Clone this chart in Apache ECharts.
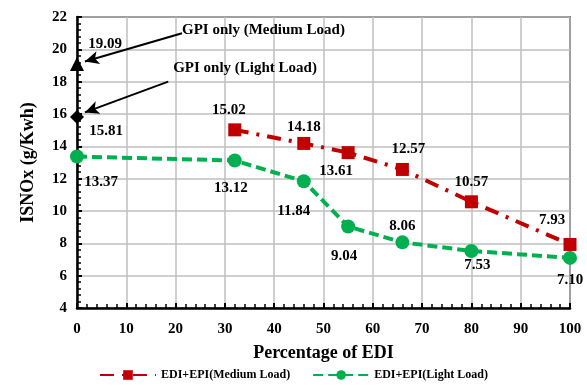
<!DOCTYPE html>
<html>
<head>
<meta charset="utf-8">
<script src="https://cdn.jsdelivr.net/npm/echarts@6/dist/echarts.min.js"></script>
<style>
  html, body { margin: 0; padding: 0; background: #fff; }
  #chart { width: 587px; height: 388px; }
</style>
</head>
<body>
<div id="chart"></div>
<script>
// data
const ediMedium = [32, 46, 55, 66, 80, 100]
const noxMedium = [15.02, 14.18, 13.61, 12.57, 10.57, 7.93]
const ediLight = [0, 32, 46, 55, 66, 80, 100]
const noxLight = [13.37, 13.12, 11.84, 9.04, 8.06, 7.53, 7.10]
const gpiMedium = 19.09
const gpiLight = 15.81

// where each value label sits relative to its point [dx, dy]
const medLabelOffsets = [[-6, -20], [0, -16], [-12, 18], [6, -20], [0, -20], [-18, -24]]
const lightLabelOffsets = [[24, 26], [-4, 28], [-10, 30], [-4, 30], [0, -16], [6, 14], [0, 22]]

const font = 'Liberation Serif'
const red = '#C00000'
const green = '#00B050'

const chart = echarts.init(document.getElementById('chart'))

const labelStyle = {
  show: true,
  position: 'inside',
  fontFamily: font,
  fontWeight: 'bold',
  fontSize: 15,
  color: '#000',
  opacity: 1,
  formatter: p => p.value[1].toFixed(2)
}

const option = {
  animation: false,
  grid: { left: 77, right: 17, top: 17, bottom: 80, show: true, borderColor: '#000', borderWidth: 1.5 },
  xAxis: {
    type: 'value', min: 0, max: 100, interval: 10,
    name: 'Percentage of EDI', nameLocation: 'middle', nameGap: 36,
    nameTextStyle: { fontFamily: font, fontWeight: 'bold', fontSize: 18, color: '#000' },
    axisLine: { lineStyle: { color: '#000', width: 2.5 } },
    axisTick: { show: true, inside: true, length: 5, lineStyle: { color: '#000', width: 2 } },
    minorTick: { show: true, splitNumber: 5, length: 4, lineStyle: { color: '#000', width: 1.5 } },
    axisLabel: { fontFamily: font, fontWeight: 'bold', fontSize: 15, color: '#000', margin: 14 },
    splitLine: { show: true, lineStyle: { color: '#BFBFBF', width: 1.5 } }
  },
  yAxis: {
    type: 'value', min: 4, max: 22, interval: 2,
    name: 'ISNOx (g/Kwh)', nameLocation: 'middle', nameGap: 40,
    nameTextStyle: { fontFamily: font, fontWeight: 'bold', fontSize: 18, color: '#000' },
    axisLine: { show: true, lineStyle: { color: '#000', width: 2.5 } },
    axisTick: { show: true, inside: true, length: 5, lineStyle: { color: '#000', width: 2 } },
    minorTick: { show: true, splitNumber: 5, length: 4, lineStyle: { color: '#000', width: 1.5 } },
    axisLabel: { fontFamily: font, fontWeight: 'bold', fontSize: 15, color: '#000', margin: 10 },
    splitLine: { show: true, lineStyle: { color: '#BFBFBF', width: 1.5 } }
  },
  legend: {
    bottom: 2, left: 'center', itemGap: 22, itemWidth: 56, itemHeight: 12,
    textStyle: { fontFamily: font, fontWeight: 'bold', fontSize: 12, color: '#000' },
    data: ['EDI+EPI(Medium Load)', 'EDI+EPI(Light Load)']
  },
  series: [
    {
      name: 'EDI+EPI(Medium Load)',
      type: 'line',
      data: ediMedium.map((x, i) => ({
        value: [x, noxMedium[i]],
        label: Object.assign({}, labelStyle, { offset: medLabelOffsets[i] })
      })),
      symbol: 'rect', symbolSize: 13,
      itemStyle: { color: red },
      lineStyle: { color: red, width: 4, type: [14, 8, 3, 8] },
      z: 3
    },
    {
      name: 'EDI+EPI(Light Load)',
      type: 'line',
      data: ediLight.map((x, i) => ({
        value: [x, noxLight[i]],
        label: Object.assign({}, labelStyle, { offset: lightLabelOffsets[i] })
      })),
      symbol: 'circle', symbolSize: 14,
      itemStyle: { color: green },
      lineStyle: { color: green, width: 4, type: [10, 5] },
      z: 3
    },
    {
      name: 'GPI Medium',
      type: 'scatter',
      data: [{ value: [0, gpiMedium], label: Object.assign({}, labelStyle, { offset: [28, -20] }) }],
      symbol: 'triangle', symbolSize: 14,
      itemStyle: { color: '#000', opacity: 1 },
      z: 4,
      markLine: {
        silent: true, symbol: ['none', 'arrow'], symbolSize: [10, 14],
        lineStyle: { color: '#000', width: 2, type: 'solid', opacity: 1 },
        label: { show: false },
        data: [[{ coord: [21.3, 21.0] }, { coord: [1.6, 19.25] }]]
      }
    },
    {
      name: 'GPI Light',
      type: 'scatter',
      data: [{ value: [0, gpiLight], label: Object.assign({}, labelStyle, { offset: [29, 14] }) }],
      symbol: 'diamond', symbolSize: 14,
      itemStyle: { color: '#000', opacity: 1 },
      z: 4,
      markLine: {
        silent: true, symbol: ['none', 'arrow'], symbolSize: [10, 14],
        lineStyle: { color: '#000', width: 2, type: 'solid', opacity: 1 },
        label: { show: false },
        data: [[{ coord: [18.5, 18.0] }, { coord: [1.6, 16.1] }]]
      }
    },
    {
      name: 'notes',
      type: 'scatter',
      symbolSize: 0,
      silent: true,
      itemStyle: { opacity: 1 },
      label: {
        show: true, position: 'right', distance: 0, opacity: 1,
        fontFamily: font, fontWeight: 'bold', fontSize: 15, color: '#000',
        formatter: p => p.name
      },
      data: [
        { name: 'GPI only (Medium Load)', value: [21.3, 21.17] },
        { name: 'GPI only (Light Load)', value: [19.5, 18.82] }
      ]
    }
  ]
}

chart.setOption(option)
</script>
</body>
</html>
